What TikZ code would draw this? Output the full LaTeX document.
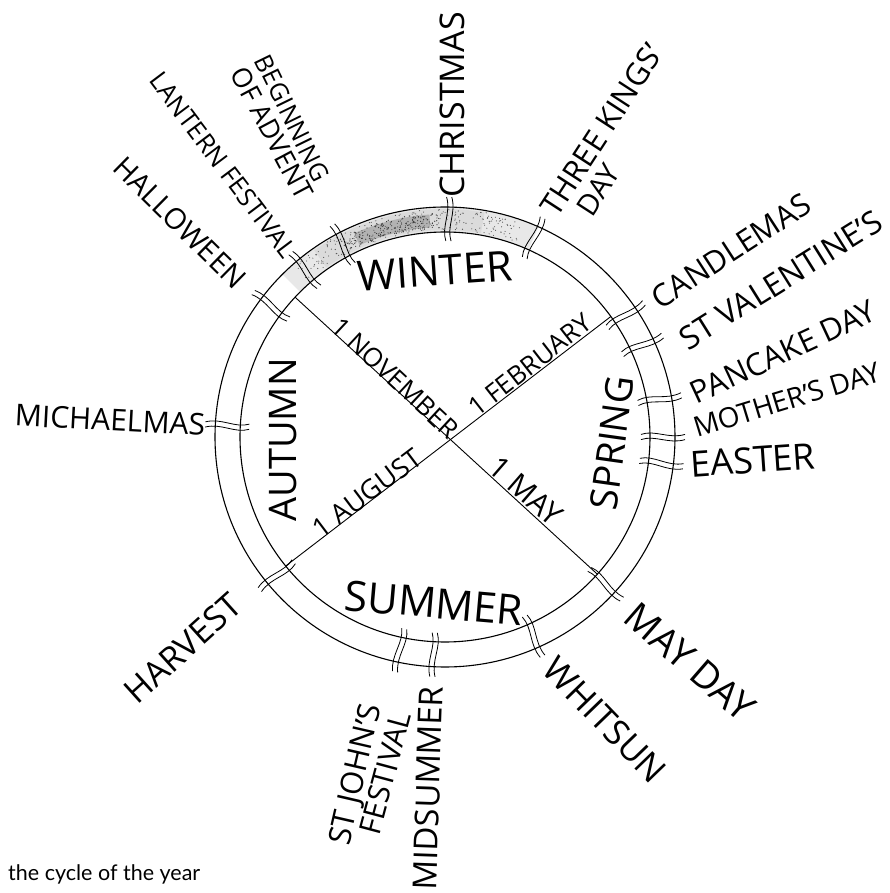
\documentclass[tikz,border=0pt]{standalone}
\usepackage{fontspec}
\setmainfont{Open Sans}
\newfontfamily\capfont{Lato}
\tikzset{
  ring/.style={line width=1.1pt},
  cross/.style={line width=0.9pt},
  lbl/.style={inner sep=0pt, font=\fontsize{#1}{#1}\selectfont},
  fmark/.pic={
    \draw[line width=0.8pt] (196,2.6) .. controls (210,7.5) and (224,-2.3) .. (240,2.6);
    \draw[line width=0.8pt] (196,-2.6) .. controls (210,2.3) and (224,-7.5) .. (240,-2.6);
  }
}
\begin{document}
\begin{tikzpicture}[x=1pt,y=1pt]
\useasboundingbox (-445,-456) rectangle (444,437);
% shaded winter part of the ring
\fill[gray!18] (66:205) arc[start angle=66,end angle=135,radius=205] -- (135:230) arc[start angle=135,end angle=66,radius=230] -- cycle;
\fill[gray!28] (80:207) arc[start angle=80,end angle=125,radius=207] -- (125:228) arc[start angle=125,end angle=80,radius=228] -- cycle;
\fill[gray!60] (94:210) arc[start angle=94,end angle=114,radius=210] -- (114:223) arc[start angle=114,end angle=94,radius=223] -- cycle;
\pgfmathsetseed{7}
\foreach \i in {1,...,260}{
  \pgfmathsetmacro\ang{70+62*rnd}
  \pgfmathsetmacro\rr{207+21*rnd}
  \fill[black!70] (\ang:\rr) circle[radius=0.55];
}
\foreach \i in {1,...,160}{
  \pgfmathsetmacro\ang{92+26*rnd}
  \pgfmathsetmacro\rr{209+15*rnd}
  \fill[black!80] (\ang:\rr) circle[radius=0.6];
}
% ring
\draw[ring] (0,0) circle[radius=230];
\draw[ring] (0,0) circle[radius=205];
% cross
\coordinate (nov) at (137:205);
\coordinate (may) at (-42:205);
\coordinate (feb) at (36:205);
\coordinate (aug) at (219:205);
\draw[cross] (nov) -- (may);
\draw[cross] (feb) -- (aug);
% festival marks
\foreach \a in {89,66,34,25,10,0,-7,-42.5,-66,-93,-102,219.5,177,143,130,118}
  \pic[rotate=\a] {fmark};
% seasons
\node[lbl=42, rotate=4] (winter) at (-10,166) {WINTER};
\node[lbl=42, rotate=-5] (summer) at (-11,-166) {SUMMER};
\node[lbl=38, rotate=90] (autumn) at (-162,-3) {AUTUMN};
\node[lbl=38, rotate=82] (spring) at (167,-6) {SPRING};
% dates
\node[lbl=26, rotate=-43] (dnov) at (-50,59) {1 NOVEMBER};
\node[lbl=26, rotate=38] (dfeb) at (85,72) {1 FEBRUARY};
\node[lbl=27, rotate=37] (daug) at (-78,-56) {1 AUGUST};
\node[lbl=30, rotate=-41] (dmay) at (81,-54) {1 MAY};
% festivals
\node[lbl=34, rotate=90] (christmas) at (7,332) {CHRISTMAS};
\node[lbl=31, rotate=57] (kings) at (157,307) {THREE KINGS'};
\node[lbl=29, rotate=57] (kingsday) at (153,247) {DAY};
\node[lbl=31, rotate=33] (candle) at (286,186) {CANDLEMAS};
\node[lbl=32, rotate=32] (valent) at (336,157) {ST VALENTINE'S};
\node[lbl=31, rotate=25] (pancake) at (338,85) {PANCAKE DAY};
\node[lbl=28, rotate=17] (mother) at (342,37) {MOTHER'S DAY};
\node[lbl=36, rotate=4] (easter) at (308,-23) {EASTER};
\node[lbl=38, rotate=-41] (mayday) at (245,-225) {MAY DAY};
\node[lbl=35, rotate=-46] (whitsun) at (160,-283) {WHITSUN};
\node[lbl=33, rotate=88] (midsummer) at (-17,-351) {MIDSUMMER};
\node[lbl=31, rotate=77] (stjohn) at (-88,-338) {ST JOHN'S};
\node[lbl=30, rotate=75] (stjohnfest) at (-60,-336) {FESTIVAL};
\node[lbl=34, rotate=42] (harvest) at (-262,-211) {HARVEST};
\node[lbl=30, rotate=-3] (michael) at (-335,17) {MICHAELMAS};
\node[lbl=29, rotate=-44.5] (hallow) at (-265,214) {HALLOWEEN};
\node[lbl=25.5, rotate=-53] (lantern) at (-222,272) {LANTERN FESTIVAL};
\node[lbl=25, rotate=-64] (begin) at (-153,319) {BEGINNING};
\node[lbl=27, rotate=-62] (advent) at (-173,304) {OF ADVENT};
% caption
\node[anchor=base west, inner sep=0pt, font=\capfont\fontsize{21.5}{21.5}\selectfont] (caption) at (-437,-443) {the cycle of the year};
\end{tikzpicture}
\end{document}
